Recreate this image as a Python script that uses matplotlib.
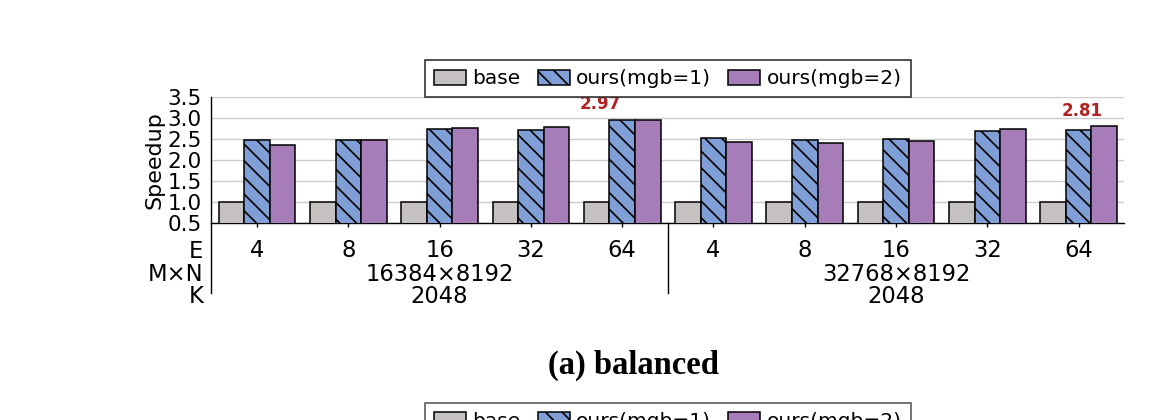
import matplotlib
matplotlib.use("Agg")
import matplotlib.pyplot as plt
import matplotlib.transforms as mtransforms
import numpy as np

# data
experts = ["4", "8", "16", "32", "64", "4", "8", "16", "32", "64"]
shapes = ["16384×8192", "32768×8192"]
k_vals = ["2048", "2048"]
base = [1.0, 1.0, 1.0, 1.0, 1.0, 1.0, 1.0, 1.0, 1.0, 1.0]
mgb1 = [2.48, 2.48, 2.74, 2.73, 2.97, 2.52, 2.48, 2.50, 2.70, 2.72]
mgb2 = [2.36, 2.48, 2.76, 2.79, 2.95, 2.44, 2.41, 2.46, 2.75, 2.81]
series_names = ["base", "ours(mgb=1)", "ours(mgb=2)"]

plt.rcParams["font.family"] = ["DejaVu Sans"]
plt.rcParams["hatch.linewidth"] = 1.2

fig = plt.figure(figsize=(11.6, 4.2), dpi=100)
ax = fig.add_axes([0.1822, 0.4683, 0.787, 0.30])

x = np.arange(len(experts))
w = 0.28
colors = ["#c5c1c0", "#809fd6", "#a67db8"]
hatches = [None, "\\\\", None]

for j, vals in enumerate([base, mgb1, mgb2]):
    ax.bar(x + (j - 1) * w, vals, w, bottom=0, color=colors[j],
           edgecolor="black", linewidth=1.1, hatch=hatches[j],
           label=series_names[j], zorder=3)

ax.set_xlim(-0.5, 9.5)
ax.set_ylim(0.5, 3.5)
yt = np.arange(0.5, 3.51, 0.5)
ax.set_yticks(yt)
ax.set_yticklabels(["%.1f" % v for v in yt])
ax.tick_params(axis="y", length=0, pad=7, labelsize=15.5)
ax.set_xticks(x)
ax.set_xticklabels(experts)
ax.tick_params(axis="x", length=3, width=1, pad=8.5, labelsize=16.3)
ax.set_ylabel("Speedup", fontsize=16, labelpad=2)
ax.yaxis.grid(True, color="#cccccc", linewidth=1, zorder=0)
ax.set_axisbelow(True)
for s in ["top", "right"]:
    ax.spines[s].set_visible(False)
ax.spines["left"].set_linewidth(1)
ax.spines["bottom"].set_linewidth(1)

# x-axis header rows
trans = mtransforms.blended_transform_factory(ax.transData, ax.transAxes)
ax.plot([-0.5, -0.5], [0, -0.555], transform=trans, color="black", lw=1, clip_on=False)
ax.plot([4.5, 4.5], [0, -0.555], transform=trans, color="black", lw=1, clip_on=False)
ax.text(-0.59, -0.22, "E", transform=trans, ha="right", va="center", fontsize=16.3)
ax.text(-0.59, -0.405, "M×N", transform=trans, ha="right", va="center", fontsize=16.3)
ax.text(-0.59, -0.58, "K", transform=trans, ha="right", va="center", fontsize=16.3)
for g in range(2):
    ax.text(g * 5 + 2, -0.405, shapes[g], transform=trans, ha="center", va="center", fontsize=16.3)
    ax.text(g * 5 + 2, -0.58, k_vals[g], transform=trans, ha="center", va="center", fontsize=16.3)

# max speedup per block
label_dx = [-0.24, 0.04]
for g in range(2):
    sl = slice(g * 5, g * 5 + 5)
    best = max(max(mgb1[sl]), max(mgb2[sl]))
    i = g * 5 + int(np.argmax(np.maximum(mgb1[sl], mgb2[sl])))
    ax.text(i + label_dx[g], best + 0.36, "%.2f" % best, ha="center", va="center",
            color="#b22222", fontsize=12, fontweight="bold")

leg_kw = dict(ncol=3, fontsize=14.5, frameon=True, fancybox=False,
              edgecolor="#333333", handlelength=1.6, handleheight=0.8,
              handletextpad=0.3, columnspacing=0.85, borderpad=0.45)
leg = ax.legend(loc="lower center", bbox_to_anchor=(0.5, 1.0), borderaxespad=0, **leg_kw)
leg.get_frame().set_linewidth(1.2)
leg.get_frame().set_alpha(1)

# next panel's legend, cut off at the bottom
handles, labels = ax.get_legend_handles_labels()
leg2 = fig.legend(handles, labels, loc="upper center", bbox_to_anchor=(0.5757, 0.0412),
                  borderaxespad=0, **leg_kw)
leg2.get_frame().set_linewidth(1.2)

fig.text(633.5 / 1160, 1 - 365 / 420, "(a) balanced", ha="center", va="center",
         fontsize=23.5, fontweight="bold", family=["Liberation Serif", "DejaVu Serif"])

fig.savefig("out.png", dpi=100)
